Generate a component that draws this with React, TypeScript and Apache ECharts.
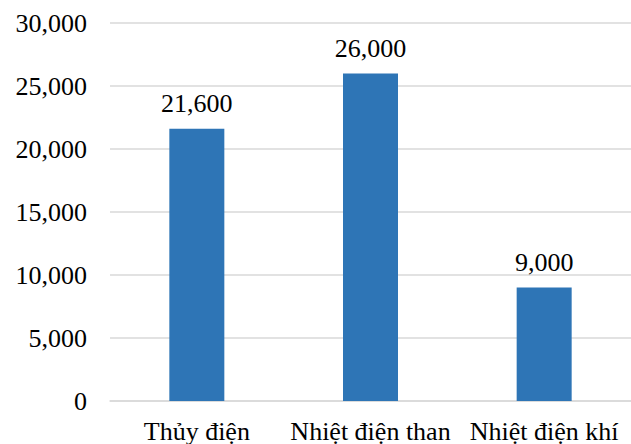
import React, { useEffect, useRef } from "react";
import * as echarts from "echarts";

const categories = ["Thủy điện", "Nhiệt điện than", "Nhiệt điện khí"];
const values = [21600, 26000, 9000];

const FONT = "Liberation Serif";
const fmt = (v: number) => v.toLocaleString("en-US");

function patchFonts(chart: echarts.ECharts) {
  try {
    const zr: any = chart.getZr();
    const list: any[] = zr.storage.getDisplayList(true);
    list.forEach((el: any) => {
      if ((el.type === "tspan" || el.type === "text") && el.style) {
        const f: string = el.style.font || "";
        const m = f.match(/(\d+(\.\d+)?)px/);
        const size = m ? m[1] : "26";
        el.style.font = size + "px " + FONT;
        if (el.dirty) el.dirty();
      }
    });
    zr.refreshImmediately();
  } catch (e) {
    // ignore
  }
}

export default function App() {
  const ref = useRef<HTMLDivElement>(null);
  useEffect(() => {
    const chart = echarts.init(ref.current!, null, { renderer: "svg" });
    chart.setOption({
      animation: false,
      textStyle: { fontFamily: FONT },
      grid: { left: 110, right: 0, top: 23, bottom: 42 },
      xAxis: {
        type: "category",
        data: categories,
        axisLine: { lineStyle: { color: "#d9d9d9", width: 1.5 } },
        axisTick: { show: false },
        axisLabel: {
          color: "#000",
          fontFamily: FONT,
          fontSize: 26,
          margin: 17,
          interval: 0,
        },
      },
      yAxis: {
        type: "value",
        min: 0,
        max: 30000,
        interval: 5000,
        axisLine: { show: false },
        axisTick: { show: false },
        splitLine: { lineStyle: { color: "#d9d9d9", width: 1.5 } },
        axisLabel: {
          color: "#000",
          fontFamily: FONT,
          fontSize: 26,
          margin: 23,
          formatter: (v: number) => fmt(v),
        },
      },
      series: [
        {
          type: "bar",
          data: values,
          barWidth: 55,
          itemStyle: { color: "#2E75B6" },
          label: {
            show: true,
            position: "top",
            distance: 12,
            color: "#000",
            fontFamily: FONT,
            fontSize: 26,
            formatter: (p: any) => fmt(p.value as number),
          },
        },
      ],
    });
    patchFonts(chart);
    const t = window.setTimeout(() => patchFonts(chart), 0);
    return () => {
      window.clearTimeout(t);
      chart.dispose();
    };
  }, []);
  return (
    <div
      ref={ref}
      style={{ position: "fixed", left: 0, top: 0, width: 631, height: 444, background: "#fff" }}
    />
  );
}
